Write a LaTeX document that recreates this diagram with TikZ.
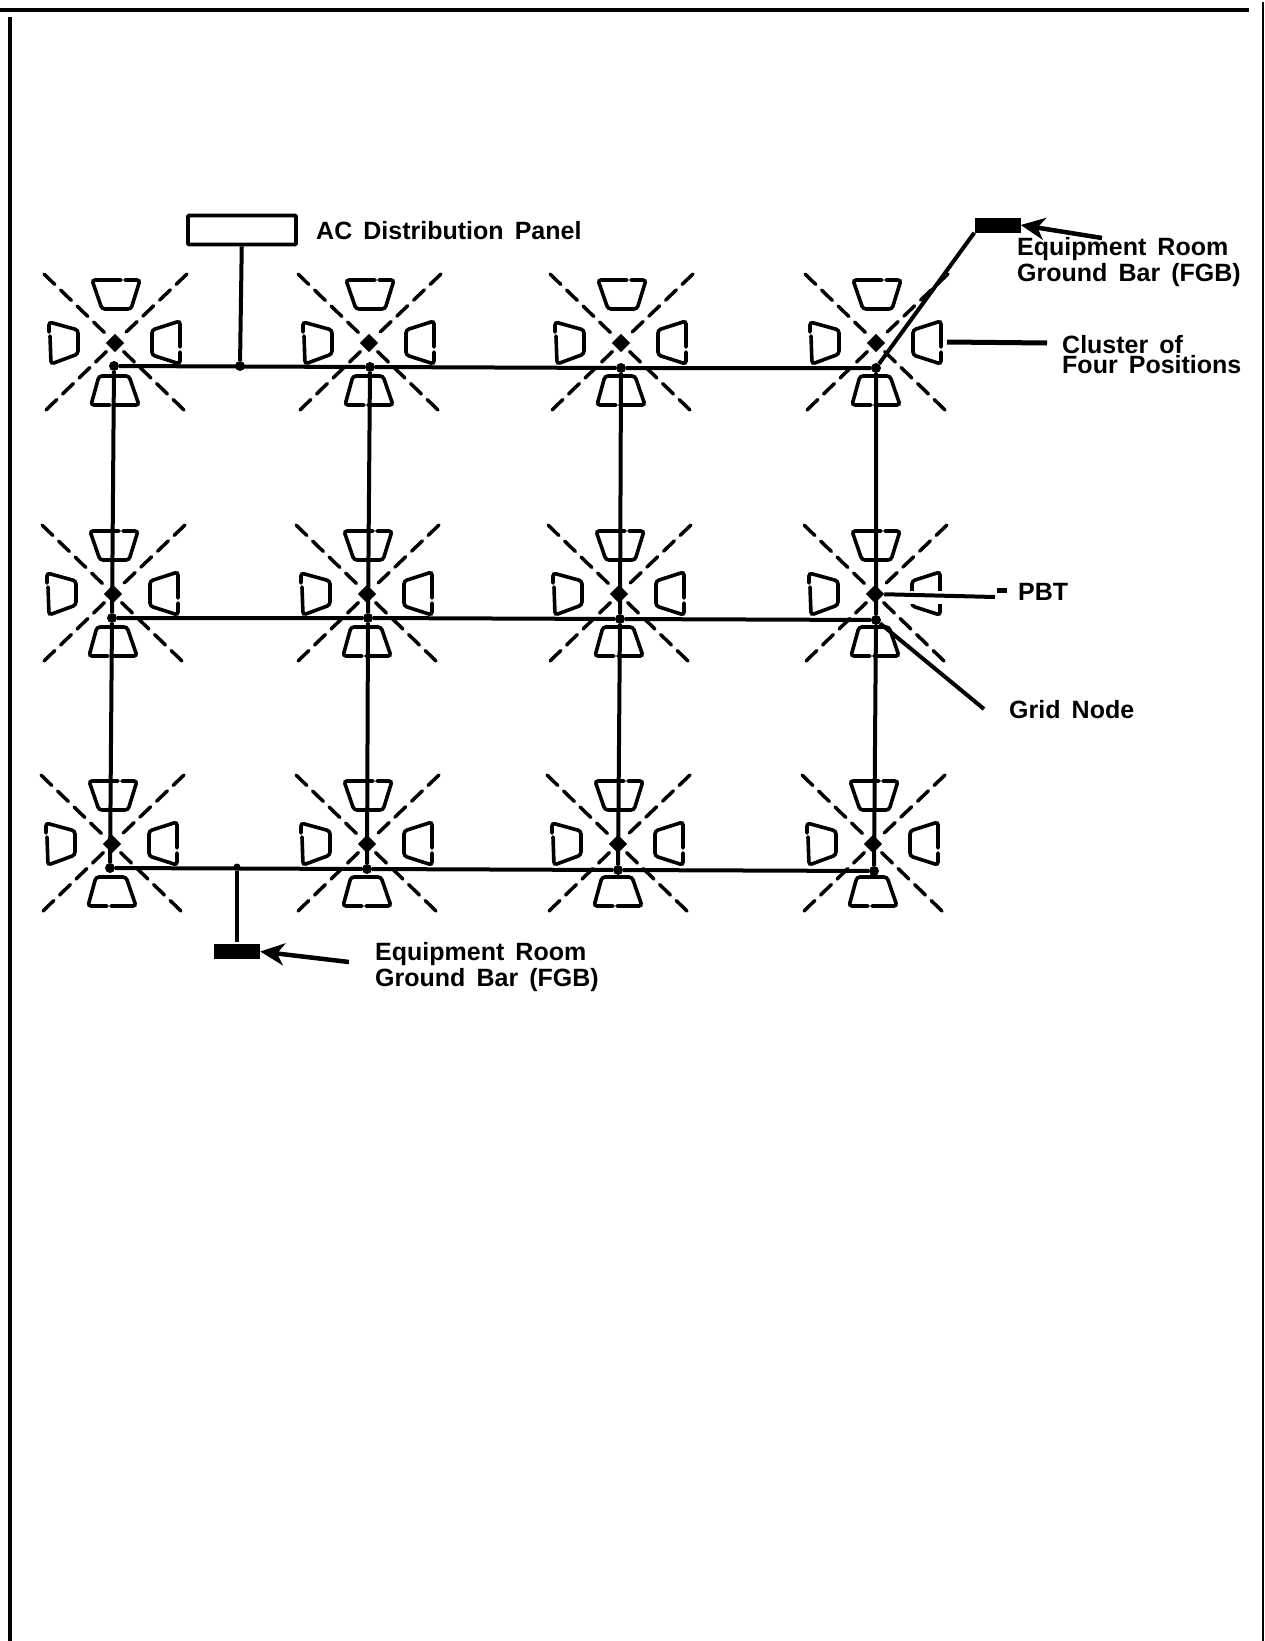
\documentclass[tikz,border=0pt]{standalone}
\usepackage{fontspec}
\setmainfont{Liberation Sans}
\newfontface\tagface[WordSpace=1.6]{Liberation Sans Bold}
\usetikzlibrary{arrows.meta}
\tikzset{
  pics/cluster/.style={code={
    \draw[diag] (-71,-69) -- (-7,-7);
    \draw[diag] (72,-69) -- (7,-7);
    \draw[diag] (-69,67) -- (-7,7);
    \draw[diag] (69,67) -- (7,7);
    \draw[seat] (10,-63) -- (25,-63) -- (16,-34) -- (-13,-34) -- (-23,-63) -- (6,-63);
    \draw[seat] (-66,-11) -- (-66,-21) -- (-37,-13) -- (-37,11) -- (-64,21) -- (-65,-7);
    \draw[seat] (65,4) -- (65,-22) -- (37,-13) -- (37,12) -- (65,21) -- (65,9);
    \draw[seat] (-5,62) -- (-24,62) -- (-16,33) -- (14,33) -- (24,62) -- (-1,62);
  }}
}
\begin{document}
\begin{tikzpicture}[
  x=1pt, y=-1pt,
  diag/.style={line width=3.5pt, line cap=round, dash pattern=on 15pt off 8pt},
  seat/.style={line width=3.6pt, line cap=round, rounded corners=3pt},
  wire/.style={line width=4pt},
  grid node/.style={circle, fill=black, inner sep=0pt, minimum size=10pt},
  pbt/.style={rectangle, fill=black, rotate=45, inner sep=0pt, minimum size=13pt},
  bar/.style={rectangle, fill=black, inner sep=0pt, minimum width=46pt, minimum height=15pt},
  tag/.style={inner sep=0pt, anchor=base west, align=left,
    font=\tagface\fontsize{25}{26}\selectfont},
  pointer/.style={line width=4.5pt, -{Stealth[length=24pt, width=22pt, inset=7pt]}}
]
  \useasboundingbox (0,0) rectangle (1265,1641);

  % page rules
  \draw[line width=4pt] (0,10) -- (1249,10);
  \draw[line width=4pt] (10,17) -- (10,1641);
  \draw[line width=2pt] (1263,2) -- (1263,1641);

  \pic at (115,343) {cluster};
  \pic at (369,343) {cluster};
  \pic at (621,343) {cluster};
  \pic at (876,343) {cluster};

  \pic at (113,594) {cluster};
  \pic at (367,594) {cluster};
  \pic at (619,594) {cluster};
  \pic at (875,594) {cluster};

  \pic at (112,844) {cluster};
  \pic at (367,844) {cluster};
  \pic at (618,844) {cluster};
  \pic at (873,844) {cluster};

  \node[pbt] (p11) at (115,343) {};
  \node[pbt] (p12) at (369,343) {};
  \node[pbt] (p13) at (621,343) {};
  \node[pbt] (p14) at (876,343) {};

  \node[pbt] (p21) at (113,594) {};
  \node[pbt] (p22) at (367,594) {};
  \node[pbt] (p23) at (619,594) {};
  \node[pbt] (p24) at (875,594) {};

  \node[pbt] (p31) at (112,844) {};
  \node[pbt] (p32) at (367,844) {};
  \node[pbt] (p33) at (618,844) {};
  \node[pbt] (p34) at (873,844) {};

  \node[grid node] (g11) at (114,366) {};
  \node[grid node] (g12) at (370,367) {};
  \node[grid node] (g13) at (621,368) {};
  \node[grid node] (g14) at (876,368) {};

  \node[grid node] (g21) at (112,618) {};
  \node[grid node] (g22) at (368,618) {};
  \node[grid node] (g23) at (620,619) {};
  \node[grid node] (g24) at (876,620) {};

  \node[grid node] (g31) at (110,868) {};
  \node[grid node] (g32) at (367,869) {};
  \node[grid node] (g33) at (618,870) {};
  \node[grid node] (g34) at (874,871) {};

  \node[grid node] (actap) at (240,366) {};
  \node[grid node, minimum size=7pt] (bartap) at (237,867) {};

  \draw[wire] (g11)--(g12) (g12)--(g13) (g13)--(g14);
  \draw[wire] (g21)--(g22) (g22)--(g23) (g23)--(g24);
  \draw[wire] (g31)--(g32) (g32)--(g33) (g33)--(g34);

  \draw[wire] (g11)--(g21) (g21)--(g31);
  \draw[wire] (g12)--(g22) (g22)--(g32);
  \draw[wire] (g13)--(g23) (g23)--(g33);
  \draw[wire] (g14)--(g24) (g24)--(g34);

  \node[draw, line width=3.6pt, rounded corners=1pt, minimum width=108pt, minimum height=29pt, inner sep=0pt] (panel) at (242,230) {};
  \node[bar] (upper fgb) at (997.5,225) {};
  \node[bar] (lower fgb) at (237,951.5) {};

  \coordinate (bar stub) at (237,942);
  \draw[wire] (panel)--(actap);
  \draw[wire] (bartap)--(bar stub);
  \draw[wire] (upper fgb.south west)--(g14);

  \coordinate (fgb tail) at (1102,238);
  \coordinate (bar tail) at (349,962);
  \coordinate (cluster tail) at (1047,343);
  \coordinate (cluster head) at (947,342);
  \coordinate (pbt end) at (995,597);
  \coordinate (pbt blob) at (997,590);
  \coordinate (pbt blob end) at (1007,590);
  \coordinate (grid end) at (984,709);

  \draw[pointer] (fgb tail)--(upper fgb.east);
  \draw[pointer] (bar tail)--(lower fgb.east);
  \draw[line width=5pt] (cluster tail)--(cluster head);

  \draw[white, line width=13pt] (906,597)--(945,597);
  \draw[wire] (p24)--(pbt end);
  \draw[line width=5pt] (pbt blob)--(pbt blob end);
  \draw[wire] (g24)--(grid end);

  \node[tag] (ac label) at (316,239) {AC Distribution Panel};
  \node[tag, anchor=north west] (upper label) at (1017,237) {Equipment Room\\Ground Bar (FGB)};
  \node[tag] (cluster label) at (1062,353) {Cluster of};
  \node[tag] (positions label) at (1062,373) {Four Positions};
  \node[tag] (pbt label) at (1018,600) {PBT};
  \node[tag] (grid label) at (1009,718) {Grid Node};
  \node[tag, anchor=north west] (lower label) at (375,942) {Equipment Room\\Ground Bar (FGB)};
\end{tikzpicture}
\end{document}
